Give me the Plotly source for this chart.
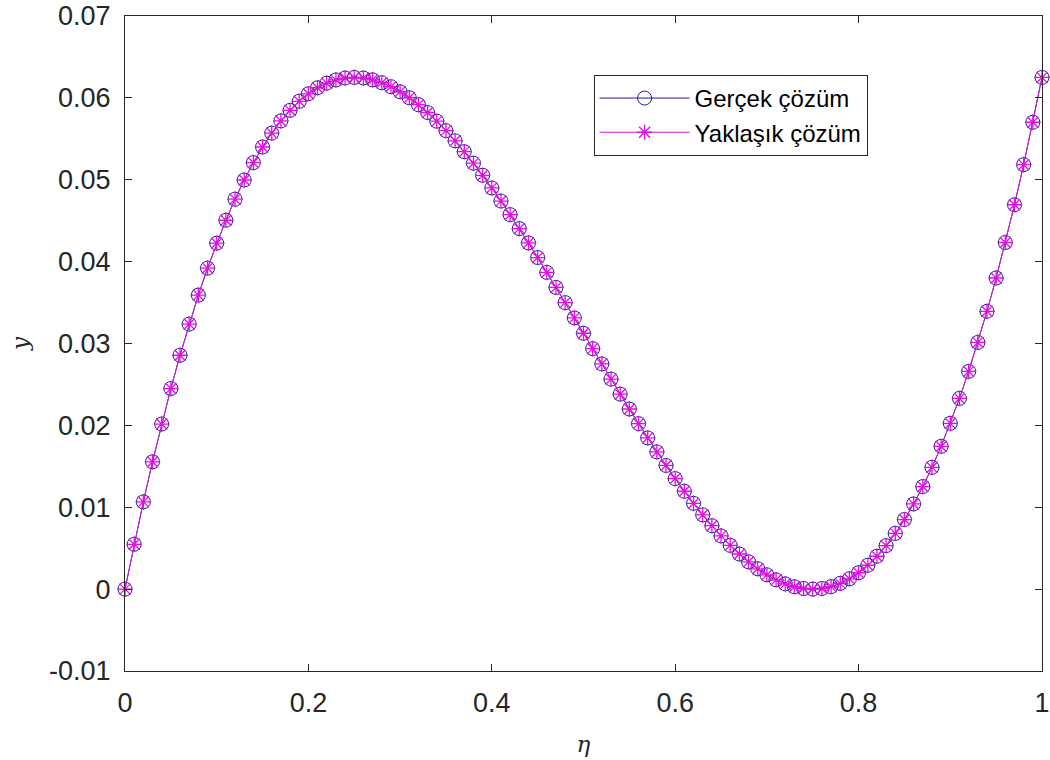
import plotly.graph_objects as go

eta = [0.00, 0.01, 0.02, 0.03, 0.04, 0.05, 0.06, 0.07, 0.08, 0.09,
       0.10, 0.11, 0.12, 0.13, 0.14, 0.15, 0.16, 0.17, 0.18, 0.19,
       0.20, 0.21, 0.22, 0.23, 0.24, 0.25, 0.26, 0.27, 0.28, 0.29,
       0.30, 0.31, 0.32, 0.33, 0.34, 0.35, 0.36, 0.37, 0.38, 0.39,
       0.40, 0.41, 0.42, 0.43, 0.44, 0.45, 0.46, 0.47, 0.48, 0.49,
       0.50, 0.51, 0.52, 0.53, 0.54, 0.55, 0.56, 0.57, 0.58, 0.59,
       0.60, 0.61, 0.62, 0.63, 0.64, 0.65, 0.66, 0.67, 0.68, 0.69,
       0.70, 0.71, 0.72, 0.73, 0.74, 0.75, 0.76, 0.77, 0.78, 0.79,
       0.80, 0.81, 0.82, 0.83, 0.84, 0.85, 0.86, 0.87, 0.88, 0.89,
       0.90, 0.91, 0.92, 0.93, 0.94, 0.95, 0.96, 0.97, 0.98, 0.99, 1.00]

gercek = [0.0, 0.005476, 0.010658, 0.015552, 0.020164, 0.0245, 0.028566, 0.032368, 0.035912, 0.039204,
          0.04225, 0.045056, 0.047628, 0.049972, 0.052094, 0.054, 0.055696, 0.057188, 0.058482, 0.059584,
          0.0605, 0.061236, 0.061798, 0.062192, 0.062424, 0.0625, 0.062426, 0.062208, 0.061852, 0.061364,
          0.06075, 0.060016, 0.059168, 0.058212, 0.057154, 0.056, 0.054756, 0.053428, 0.052022, 0.050544,
          0.049, 0.047396, 0.045738, 0.044032, 0.042284, 0.0405, 0.038686, 0.036848, 0.034992, 0.033124,
          0.03125, 0.029376, 0.027508, 0.025652, 0.023814, 0.022, 0.020216, 0.018468, 0.016762, 0.015104,
          0.0135, 0.011956, 0.010478, 0.009072, 0.007744, 0.0065, 0.005346, 0.004288, 0.003332, 0.002484,
          0.00175, 0.001136, 0.000648, 0.000292, 0.000074, 0.0, 0.000076, 0.000308, 0.000702, 0.001264,
          0.002, 0.002916, 0.004018, 0.005312, 0.006804, 0.0085, 0.010406, 0.012528, 0.014872, 0.017444,
          0.02025, 0.023296, 0.026588, 0.030132, 0.033934, 0.038, 0.042336, 0.046948, 0.051842, 0.057024, 0.0625]

yaklasik = [0.0, 0.005476, 0.010658, 0.015552, 0.020164, 0.0245, 0.028566, 0.032368, 0.035912, 0.039204,
            0.04225, 0.045056, 0.047628, 0.049972, 0.052094, 0.054, 0.055696, 0.057188, 0.058482, 0.059584,
            0.0605, 0.061236, 0.061798, 0.062192, 0.062424, 0.0625, 0.062426, 0.062208, 0.061852, 0.061364,
            0.06075, 0.060016, 0.059168, 0.058212, 0.057154, 0.056, 0.054756, 0.053428, 0.052022, 0.050544,
            0.049, 0.047396, 0.045738, 0.044032, 0.042284, 0.0405, 0.038686, 0.036848, 0.034992, 0.033124,
            0.03125, 0.029376, 0.027508, 0.025652, 0.023814, 0.022, 0.020216, 0.018468, 0.016762, 0.015104,
            0.0135, 0.011956, 0.010478, 0.009072, 0.007744, 0.0065, 0.005346, 0.004288, 0.003332, 0.002484,
            0.00175, 0.001136, 0.000648, 0.000292, 0.000074, 0.0, 0.000076, 0.000308, 0.000702, 0.001264,
            0.002, 0.002916, 0.004018, 0.005312, 0.006804, 0.0085, 0.010406, 0.012528, 0.014872, 0.017444,
            0.02025, 0.023296, 0.026588, 0.030132, 0.033934, 0.038, 0.042336, 0.046948, 0.051842, 0.057024, 0.0625]

x_ticks = [0, 0.2, 0.4, 0.6, 0.8, 1]
x_ticklabels = ["0", "0.2", "0.4", "0.6", "0.8", "1"]
y_ticks = [-0.01, 0, 0.01, 0.02, 0.03, 0.04, 0.05, 0.06, 0.07]
y_ticklabels = ["-0.01", "0", "0.01", "0.02", "0.03", "0.04", "0.05", "0.06", "0.07"]

AX = "#262626"
TICKFONT = dict(family="Liberation Sans, Arial, sans-serif", size=27, color=AX)
LABELFONT = dict(family="DejaVu Serif, serif", size=23, color=AX)

fig = go.Figure()
fig.add_trace(go.Scatter(
    x=eta, y=gercek, mode="lines+markers", name="Gerçek çözüm",
    line=dict(color="#1c1ca0", width=1),
    marker=dict(symbol="circle-open", size=14, color="#1c1ca0", line=dict(width=1)),
    cliponaxis=False,
))
fig.add_trace(go.Scatter(
    x=eta, y=yaklasik, mode="lines+markers", name="Yaklaşık çözüm",
    line=dict(color="#d41cd4", width=1),
    marker=dict(symbol="asterisk-open", size=13, color="#e010e0", line=dict(width=1.3, color="#e010e0")),
    cliponaxis=False,
))

axis_common = dict(
    showgrid=False, zeroline=False, showline=True, linecolor=AX, linewidth=1,
    mirror="allticks", ticks="inside", ticklen=7, tickcolor=AX, tickwidth=1,
    tickfont=TICKFONT, automargin=False, ticklabeloverflow="allow",
)

fig.update_layout(
    width=1050, height=760,
    margin=dict(l=125, r=8, t=16, b=89),
    paper_bgcolor="white", plot_bgcolor="white",
    xaxis=dict(range=[0, 1], tickvals=x_ticks, ticktext=x_ticklabels,
               ticklabelstandoff=8,
               title=dict(text="<i>η</i>", standoff=18, font=LABELFONT),
               **axis_common),
    yaxis=dict(range=[-0.01, 0.07], tickvals=y_ticks, ticktext=y_ticklabels,
               ticklabelstandoff=8,
               title=dict(text="<i>y</i>", standoff=14, font=LABELFONT),
               **axis_common),
    legend=dict(x=0.511, y=0.91, xanchor="left", yanchor="top",
                bordercolor=AX, borderwidth=1, bgcolor="white",
                font=dict(family="Liberation Sans, Arial, sans-serif", size=24, color="#000000"),
                itemwidth=90, tracegroupgap=0),
    showlegend=True,
)

fig.write_html("out.html")
